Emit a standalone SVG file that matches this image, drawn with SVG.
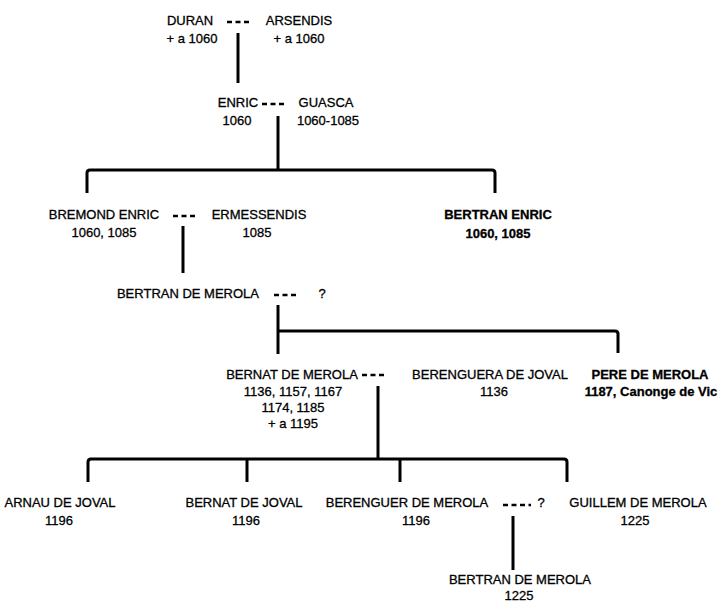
<svg xmlns="http://www.w3.org/2000/svg" width="719" height="602" viewBox="0 0 719 602">
<style>
text{font-family:"Liberation Sans",Arial,sans-serif;font-size:13px;fill:#000;text-anchor:middle;stroke:#000;stroke-width:0.3}
.b{font-weight:bold}
.ln{stroke:#000;stroke-width:3;fill:none;stroke-linejoin:round;stroke-linecap:butt}
.dash{stroke:#000;stroke-width:2.6;stroke-dasharray:5 3.5;fill:none}
</style>
<rect width="719" height="602" fill="#fff"/>
<g id="connectors">
<path class="ln" d="M238 33V83"/>
<path class="ln" d="M278 116V170"/>
<path class="ln" d="M87 193V173Q87 170 90 170H492Q495 170 495 173V193"/>
<path class="ln" d="M183 226V273"/>
<path class="ln" d="M278 305V354"/>
<path class="ln" d="M278 331H615Q618 331 618 334V353"/>
<path class="ln" d="M378 386V459"/>
<path class="ln" d="M88 482V462Q88 459 91 459H564Q567 459 567 462V482"/>
<path class="ln" d="M247 459V482"/>
<path class="ln" d="M400 459V482"/>
<path class="ln" d="M513 516V570"/>
<path class="dash" d="M227 22H249"/>
<path class="dash" d="M262 104H284"/>
<path class="dash" d="M173 216H195"/>
<path class="dash" d="M274 295H296"/>
<path class="dash" d="M362 375H384"/>
<path class="dash" d="M503 505H531"/>
</g>
<g id="duran"><text x="190" y="25">DURAN</text><text x="192" y="43">+ a 1060</text></g>
<g id="arsendis"><text x="299" y="25">ARSENDIS</text><text x="299" y="43">+ a 1060</text></g>
<g id="enric"><text x="238" y="107">ENRIC</text><text x="237" y="125">1060</text></g>
<g id="guasca"><text x="326" y="107">GUASCA</text><text x="328" y="125">1060-1085</text></g>
<g id="bremond"><text x="104" y="219">BREMOND ENRIC</text><text x="104" y="237">1060, 1085</text></g>
<g id="ermessendis"><text x="259" y="219">ERMESSENDIS</text><text x="257" y="237">1085</text></g>
<g id="bertran-enric"><text class="b" x="498" y="219">BERTRAN ENRIC</text><text class="b" x="498" y="238">1060, 1085</text></g>
<g id="bertran-merola-1"><text x="188" y="298">BERTRAN DE MEROLA</text></g>
<g id="unknown-1"><text x="322" y="298">?</text></g>
<g id="bernat-merola"><text x="292" y="379">BERNAT DE MEROLA</text><text x="293" y="396">1136, 1157, 1167</text><text x="293" y="412">1174, 1185</text><text x="293" y="428">+ a 1195</text></g>
<g id="berenguera"><text x="490" y="379">BERENGUERA DE JOVAL</text><text x="494" y="396">1136</text></g>
<g id="pere"><text class="b" x="650" y="379">PERE DE MEROLA</text><text class="b" x="651" y="396">1187, Canonge de Vic</text></g>
<g id="arnau"><text x="60" y="507">ARNAU DE JOVAL</text><text x="59" y="525">1196</text></g>
<g id="bernat-joval"><text x="244" y="507">BERNAT DE JOVAL</text><text x="246" y="525">1196</text></g>
<g id="berenguer"><text x="407" y="507">BERENGUER DE MEROLA</text><text x="416" y="525">1196</text></g>
<g id="unknown-2"><text x="541" y="507">?</text></g>
<g id="guillem"><text x="638" y="507">GUILLEM DE MEROLA</text><text x="635" y="525">1225</text></g>
<g id="bertran-merola-2"><text x="520" y="584">BERTRAN DE MEROLA</text><text x="519" y="600">1225</text></g>
</svg>
